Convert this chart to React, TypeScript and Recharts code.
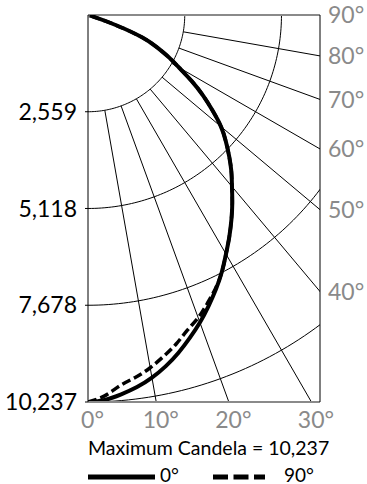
import React from 'react';
import { ComposedChart, Line, XAxis, YAxis, ReferenceLine } from 'recharts';

// ---- data ----
const MAX_CANDELA = 10237;
const X_DOMAIN_MAX = 6137; // candela shown across the plot width
const RING_VALUES = [2559, 5118, 7678, 10237];
const RADIAL_ANGLES = [10, 20, 30, 40, 50, 60, 70, 80];
const BOTTOM_ANGLE_TICKS = [0, 10, 20, 30];
const RIGHT_ANGLE_TICKS = [90, 80, 70, 60, 50, 40];
const ANGLES = [
  0, 2.5, 5, 7.5, 10, 12.5, 15, 17.5, 20, 22.5, 25, 27.5, 30, 32.5, 35, 37.5, 40, 42.5, 45, 47.5, 50, 52.5, 55,
  57.5, 60, 62.5, 65, 67.5, 70, 72.5, 75, 80, 90,
];
const CANDELA_0 = [
  10237, 10190, 10073, 9928, 9740, 9513, 9248, 8954, 8655, 8333, 8007, 7666, 7301, 6957, 6613, 6270, 5925, 5613,
  5280, 4944, 4592, 4153, 3717, 3254, 2778, 2394, 1997, 1558, 794, 130, 0, 0, 0,
];
const CANDELA_90 = [
  10237, 10084, 9835, 9663, 9475, 9248, 9010, 8742, 8523, 8254, 7981, 7666, 7301, 6957, 6613, 6270, 5925, 5613,
  5280, 4944, 4592, 4153, 3717, 3254, 2778, 2394, 1997, 1558, 794, 130, 0, 0, 0,
];
const SERIES = [
  { name: '0°', values: CANDELA_0, dash: undefined as string | undefined },
  { name: '90°', values: CANDELA_90, dash: '9 4' },
];

const FONT = 'Lato, "Open Sans", sans-serif';
const GRAY = '#8a8a8a';

const rad = (d: number) => (d * Math.PI) / 180;
const deg = (r: number) => (r * 180) / Math.PI;
const toXY = (angle: number, cd: number) => ({ x: cd * Math.sin(rad(angle)), y: cd * Math.cos(rad(angle)) });

const ringData = RING_VALUES.map((r) => Array.from({ length: 91 }, (_, a) => toXY(a, r)));
const radialData = RADIAL_ANGLES.map((a) => [toXY(a, RING_VALUES[0]), toXY(a, 16000)]);
const bottomTicks = BOTTOM_ANGLE_TICKS.map((a) => MAX_CANDELA * Math.tan(rad(a)));
const rightTicks = RIGHT_ANGLE_TICKS.map((a) => (a === 90 ? 0 : X_DOMAIN_MAX / Math.tan(rad(a))));
const seriesData = SERIES.map((s) => ANGLES.map((a, i) => toXY(a, s.values[i])));

export default function App() {
  return (
    <div style={{ position: 'absolute', left: 0, top: 0, width: 367, height: 484, background: '#fff' }}>
      <ComposedChart
        width={367}
        height={484}
        margin={{ top: 15, right: 0, bottom: 52, left: 8 }}
        style={{ fontFamily: FONT }}
      >
        <XAxis
          type="number"
          dataKey="x"
          domain={[0, X_DOMAIN_MAX]}
          allowDataOverflow
          ticks={bottomTicks}
          interval={0}
          tickFormatter={(v: number) => `${Math.round(deg(Math.atan(v / MAX_CANDELA)))}°`}
          tickLine={false}
          axisLine={{ stroke: GRAY, strokeWidth: 2 }}
          tick={{ fill: GRAY, fontSize: 23, fontFamily: FONT, dx: 4.5 }}
          tickSize={4}
          tickMargin={6}
          height={30}
        />
        <YAxis
          yAxisId="left"
          type="number"
          dataKey="y"
          domain={[0, MAX_CANDELA]}
          reversed
          allowDataOverflow
          ticks={RING_VALUES}
          interval={0}
          tickFormatter={(v: number) => v.toLocaleString('en-US')}
          width={80}
          tickSize={3}
          tickMargin={8}
          axisLine={{ stroke: '#000' }}
          tickLine={{ stroke: '#000' }}
          tick={{ fill: '#000', fontSize: 23, fontFamily: FONT }}
        />
        <YAxis
          yAxisId="right"
          orientation="right"
          type="number"
          domain={[0, MAX_CANDELA]}
          reversed
          allowDataOverflow
          ticks={rightTicks}
          interval={0}
          tickFormatter={(v: number) => `${Math.round(deg(Math.atan2(X_DOMAIN_MAX, v)))}°`}
          width={47}
          tickLine={false}
          tickSize={4}
          tickMargin={4}
          axisLine={{ stroke: '#000' }}
          tick={{ fill: GRAY, fontSize: 23, fontFamily: FONT }}
        />
        {ringData.map((d, i) => (
          <Line
            key={'ring' + i}
            yAxisId="left"
            data={d}
            dataKey="y"
            type="linear"
            stroke="#000"
            strokeWidth={1}
            dot={false}
            activeDot={false}
            legendType="none"
            isAnimationActive={false}
          />
        ))}
        {radialData.map((d, i) => (
          <Line
            key={'radial' + i}
            yAxisId="left"
            data={d}
            dataKey="y"
            type="linear"
            stroke="#000"
            strokeWidth={1}
            dot={false}
            activeDot={false}
            legendType="none"
            isAnimationActive={false}
          />
        ))}
        <ReferenceLine yAxisId="left" y={0} stroke={GRAY} strokeWidth={2} />
        {[1, 0].map((i) => (
          <Line
            key={'series' + i}
            yAxisId="left"
            name={SERIES[i].name}
            data={seriesData[i]}
            dataKey="y"
            type="natural"
            stroke="#000"
            strokeWidth={i === 0 ? 4 : 3.5}
            strokeDasharray={SERIES[i].dash}
            dot={false}
            activeDot={false}
            isAnimationActive={false}
          />
        ))}
      </ComposedChart>
      <svg
        width={367}
        height={484}
        style={{ position: 'absolute', left: 0, top: 0, pointerEvents: 'none', fontFamily: FONT }}
      >
        <text x={88} y={455} fontSize={19.5} fill="#000">
          {`Maximum Candela = ${MAX_CANDELA.toLocaleString('en-US')}`}
        </text>
        <line x1={88} y1={477} x2={155} y2={477} stroke="#000" strokeWidth={5} />
        <text x={160} y={481.5} fontSize={19} fill="#000">{SERIES[0].name}</text>
        <line x1={213} y1={477} x2={265} y2={477} stroke="#000" strokeWidth={5} strokeDasharray="15 5.5" />
        <text x={284} y={481.5} fontSize={19} fill="#000">{SERIES[1].name}</text>
      </svg>
    </div>
  );
}
